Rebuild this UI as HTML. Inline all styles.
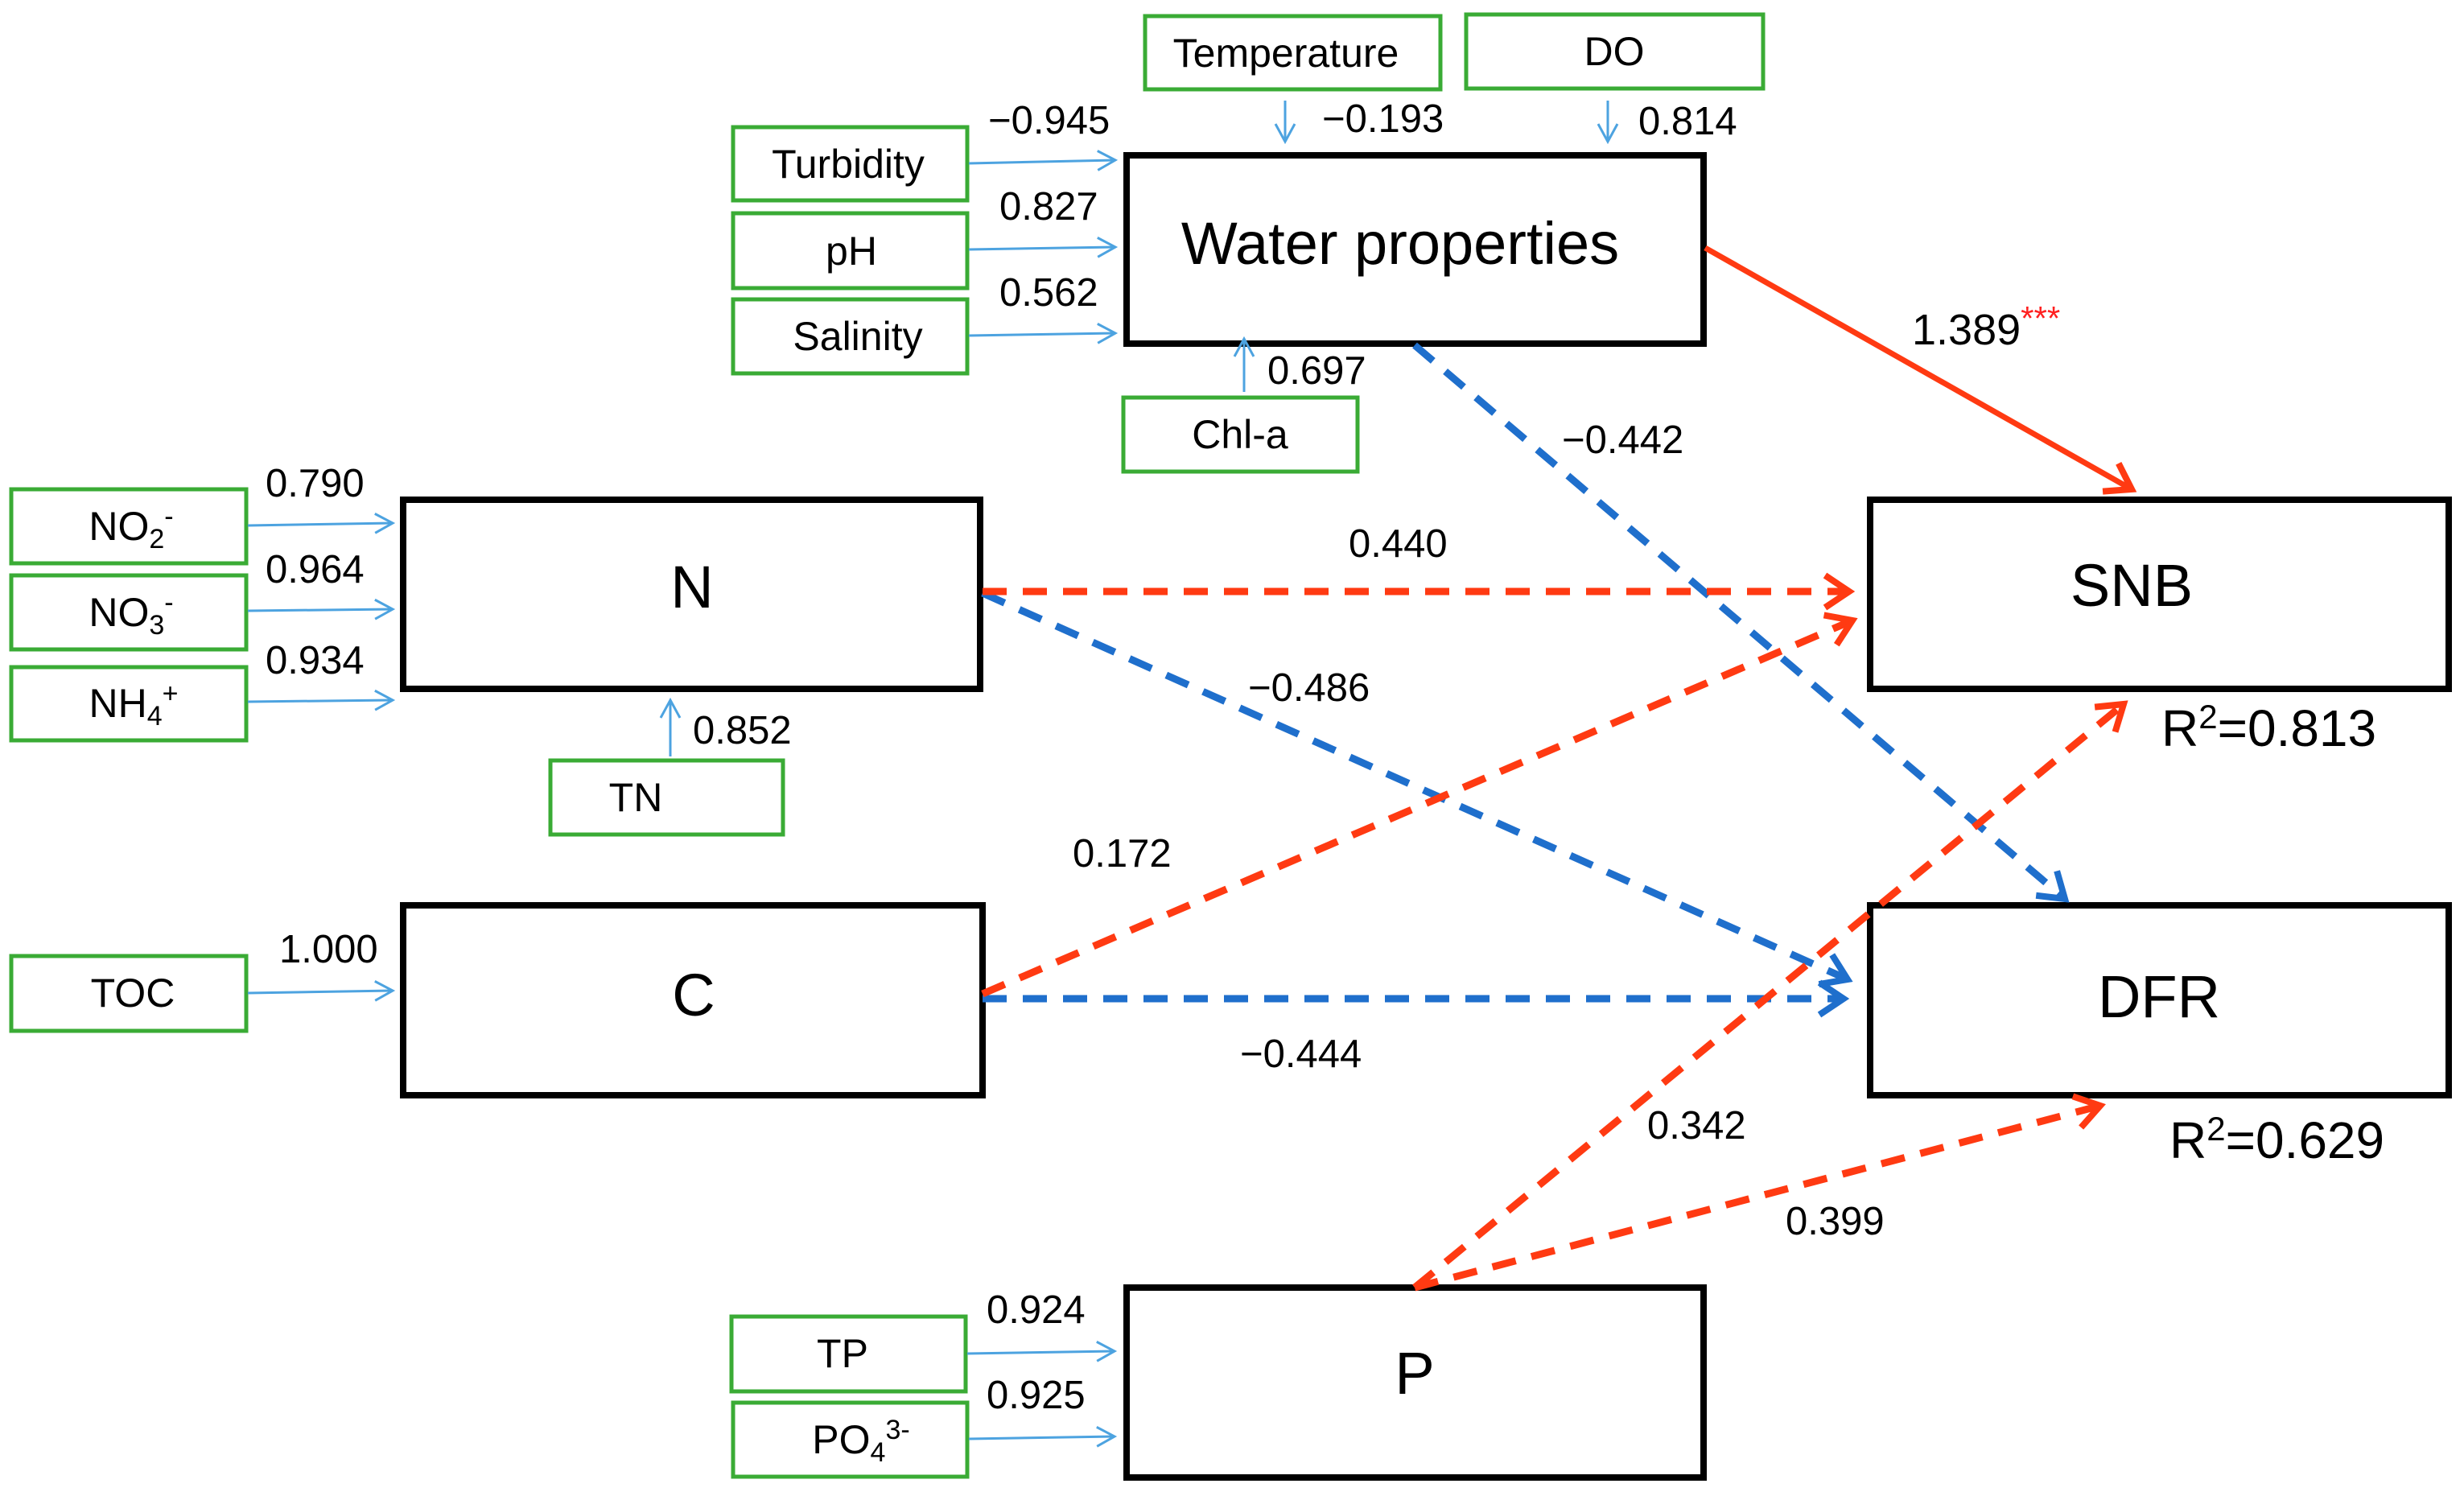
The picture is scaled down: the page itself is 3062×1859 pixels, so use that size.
<!DOCTYPE html>
<html><head><meta charset="utf-8"><style>
html,body{margin:0;padding:0;background:#fff;}
svg{display:block;}
text{font-family:"Liberation Sans",Arial,sans-serif;fill:#000;}
</style></head><body>
<svg width="3062" height="1859" viewBox="0 0 3062 1859" xmlns="http://www.w3.org/2000/svg">
<defs>
<marker id="ab" markerUnits="userSpaceOnUse" markerWidth="40" markerHeight="40" refX="30" refY="20" orient="auto">
<path d="M8,8 L30,20 L8,32" fill="none" stroke="#4da3e0" stroke-width="3" stroke-dasharray="none"/></marker>
<marker id="ar" markerUnits="userSpaceOnUse" markerWidth="60" markerHeight="60" refX="44" refY="30" orient="auto">
<path d="M14,10 L44,30 L14,50" fill="none" stroke="#ff3a12" stroke-width="8" stroke-dasharray="none"/></marker>
<marker id="abl" markerUnits="userSpaceOnUse" markerWidth="60" markerHeight="60" refX="44" refY="30" orient="auto">
<path d="M14,10 L44,30 L14,50" fill="none" stroke="#1f6fcc" stroke-width="8" stroke-dasharray="none"/></marker>
</defs>

<g fill="none" stroke="#3aab35" stroke-width="5">
<rect x="911" y="158" width="291" height="91"/>
<rect x="911" y="265" width="291" height="93"/>
<rect x="911" y="372" width="291" height="92"/>
<rect x="1423" y="20" width="367" height="91"/>
<rect x="1822" y="18" width="369" height="92"/>
<rect x="1396" y="494" width="291" height="92"/>
<rect x="14" y="608" width="292" height="92"/>
<rect x="14" y="715" width="292" height="92"/>
<rect x="14" y="829" width="292" height="91"/>
<rect x="684" y="945" width="289" height="92"/>
<rect x="14" y="1188" width="292" height="93"/>
<rect x="909" y="1636" width="291" height="93"/>
<rect x="911" y="1743" width="291" height="92"/>
</g>

<g fill="none" stroke="#000" stroke-width="8">
<rect x="1400" y="193" width="717" height="234"/>
<rect x="501" y="621" width="717" height="235"/>
<rect x="501" y="1125" width="720" height="236"/>
<rect x="2324" y="621" width="719" height="235"/>
<rect x="2324" y="1125" width="719" height="236"/>
<rect x="1400" y="1600" width="717" height="236"/>
</g>

<g stroke="#4da3e0" stroke-width="3" fill="none">
<line x1="1204" y1="203" x2="1386" y2="199" marker-end="url(#ab)"/>
<line x1="1204" y1="310" x2="1386" y2="307" marker-end="url(#ab)"/>
<line x1="1204" y1="417" x2="1386" y2="414" marker-end="url(#ab)"/>
<line x1="1597" y1="125" x2="1597" y2="176" marker-end="url(#ab)"/>
<line x1="1998" y1="125" x2="1998" y2="176" marker-end="url(#ab)"/>
<line x1="1546" y1="487" x2="1546" y2="421" marker-end="url(#ab)"/>
<line x1="308" y1="653" x2="488" y2="650" marker-end="url(#ab)"/>
<line x1="308" y1="759" x2="488" y2="757" marker-end="url(#ab)"/>
<line x1="308" y1="872" x2="488" y2="870" marker-end="url(#ab)"/>
<line x1="833" y1="940" x2="833" y2="870" marker-end="url(#ab)"/>
<line x1="308" y1="1234" x2="488" y2="1231" marker-end="url(#ab)"/>
<line x1="1202" y1="1682" x2="1385" y2="1679" marker-end="url(#ab)"/>
<line x1="1204" y1="1788" x2="1385" y2="1785" marker-end="url(#ab)"/>
</g>

<g fill="none" stroke-width="9" stroke-dasharray="30,20">
<line x1="1758" y1="429" x2="2566" y2="1117" stroke="#1f6fcc" marker-end="url(#abl)"/>
<line x1="1221" y1="737" x2="2296" y2="1217" stroke="#1f6fcc" marker-end="url(#abl)"/>
<line x1="1221" y1="1241" x2="2291" y2="1241" stroke="#1f6fcc" marker-end="url(#abl)"/>
<line x1="1221" y1="735" x2="2298" y2="735" stroke="#ff3a12" marker-end="url(#ar)"/>
<line x1="1221" y1="1235" x2="2302" y2="771" stroke="#ff3a12" marker-end="url(#ar)"/>
<line x1="1758" y1="1600" x2="2639" y2="875" stroke="#ff3a12" marker-end="url(#ar)"/>
<line x1="1758" y1="1600" x2="2610" y2="1374" stroke="#ff3a12" marker-end="url(#ar)"/>
</g>
<line x1="2119" y1="308" x2="2649" y2="608" stroke="#ff3a12" stroke-width="7" marker-end="url(#ar)"/>

<g font-size="50" text-anchor="middle">
<text x="1054" y="221">Turbidity</text>
<text x="1058" y="329">pH</text>
<text x="1066" y="435">Salinity</text>
<text x="1598" y="83">Temperature</text>
<text x="2006" y="81">DO</text>
<text x="1541" y="557">Chl-a</text>
<text x="163" y="671">NO<tspan font-size="34" dy="10">2</tspan><tspan font-size="34" dy="-28">-</tspan></text>
<text x="163" y="778">NO<tspan font-size="34" dy="10">3</tspan><tspan font-size="34" dy="-28">-</tspan></text>
<text x="166" y="891">NH<tspan font-size="34" dy="10">4</tspan><tspan font-size="34" dy="-28">+</tspan></text>
<text x="790" y="1008">TN</text>
<text x="165" y="1251">TOC</text>
<text x="1047" y="1699">TP</text>
<text x="1070" y="1806">PO<tspan font-size="34" dy="10">4</tspan><tspan font-size="34" dy="-28">3-</tspan></text>
</g>

<g font-size="49">
<text x="1228" y="166">−0.945</text>
<text x="1242" y="273">0.827</text>
<text x="1242" y="380">0.562</text>
<text x="1643" y="164">−0.193</text>
<text x="2036" y="167">0.814</text>
<text x="1575" y="477">0.697</text>
<text x="330" y="617">0.790</text>
<text x="330" y="724">0.964</text>
<text x="330" y="837">0.934</text>
<text x="861" y="924">0.852</text>
<text x="347" y="1196">1.000</text>
<text x="1226" y="1644">0.924</text>
<text x="1226" y="1750">0.925</text>
<text x="1676" y="692">0.440</text>
<text x="1551" y="871">−0.486</text>
<text x="1333" y="1077">0.172</text>
<text x="1941" y="563">−0.442</text>
<text x="1541" y="1326">−0.444</text>
<text x="2047" y="1415">0.342</text>
<text x="2219" y="1534">0.399</text>
</g>
<text x="2376" y="428" font-size="54">1.389<tspan fill="#ff2020" font-size="42" dy="-18">***</tspan></text>

<g font-size="64">
<text x="2686" y="927">R<tspan font-size="42" dy="-22">2</tspan><tspan dy="22">=0.813</tspan></text>
<text x="2696" y="1439">R<tspan font-size="42" dy="-22">2</tspan><tspan dy="22">=0.629</tspan></text>
</g>

<g font-size="74" text-anchor="middle">
<text x="1740" y="328">Water properties</text>
<text x="860" y="755">N</text>
<text x="862" y="1262">C</text>
<text x="2649" y="753">SNB</text>
<text x="2683" y="1264">DFR</text>
<text x="1758" y="1732">P</text>
</g>
</svg>
</body></html>
